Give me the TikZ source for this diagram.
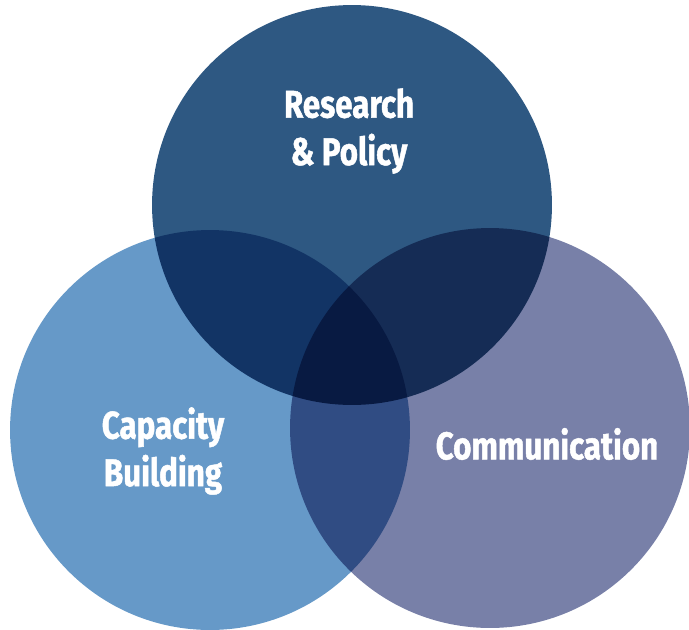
\documentclass[tikz,border=0pt]{standalone}
\usepackage{fontspec}
\newfontfamily\vennfont[FakeStretch=0.81,FakeBold=1.2]{Fira Sans}
\usepackage{tikz}
\usetikzlibrary{positioning}
\usepackage{xcolor}

\definecolor{respol}{HTML}{2E5882}
\definecolor{capbld}{HTML}{6699C8}
\definecolor{commun}{HTML}{7880A8}

\tikzset{
  venn/.style={circle, minimum size=8cm, inner sep=0pt, draw=none},
  vlabel/.style={text=white, align=center, font=\vennfont\bfseries\fontsize{22}{27}\selectfont}
}

\begin{document}
\begin{tikzpicture}[x=0.02cm,y=-0.02cm]
 \useasboundingbox (0,0) rectangle (689,629);
 % the three circles, overlaps darken by multiply
 \begin{scope}[blend group=multiply]
  \node[venn,fill=respol] (research) at (352,205) {};
  \node[venn,fill=capbld] (capacity) at (210,430) {};
  \node[venn,fill=commun] (communication) at (490,428) {};
 \end{scope}

 \node[vlabel] (researchtxt) at (349,131) {Research\\\& Policy};
 \node[vlabel] (capacitytxt) at (163,451) {Capacity\\Building};
 \node[vlabel] (communicationtxt) at (547,444) {Communication};
\end{tikzpicture}
\end{document}
